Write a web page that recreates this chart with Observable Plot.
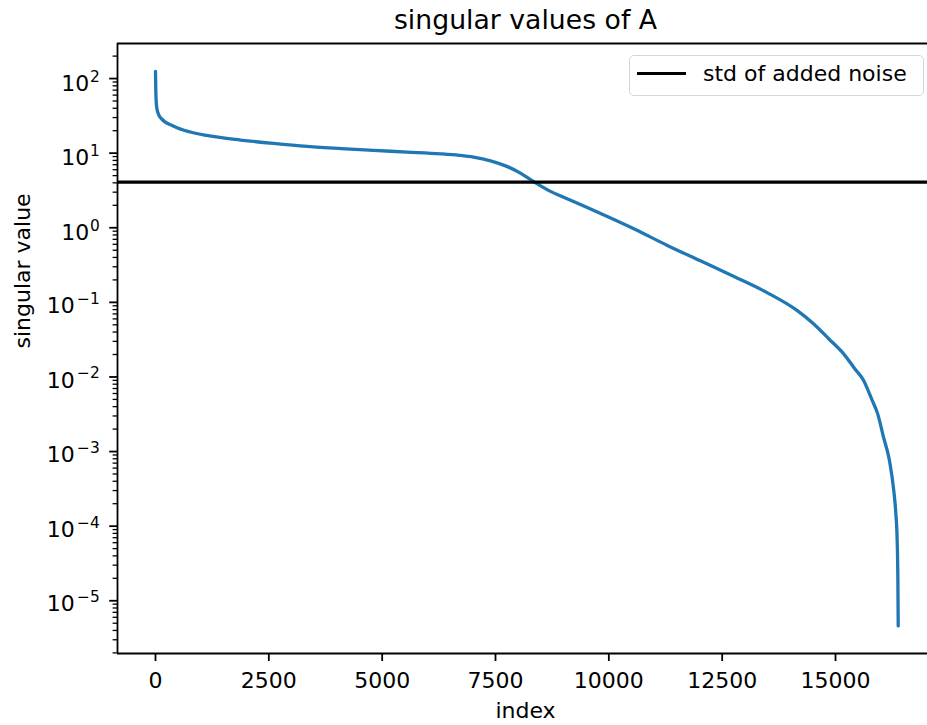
<!DOCTYPE html>
<html>
<head>
<meta charset="utf-8">
<script src="https://cdn.jsdelivr.net/npm/d3@7"></script>
<script src="https://cdn.jsdelivr.net/npm/@observablehq/plot@0.6"></script>
<style>
  html, body { margin: 0; padding: 0; background: white; }
  #wrap { position: relative; width: 927px; height: 725px; overflow: hidden; font-family: "DejaVu Sans", sans-serif; }
  #legend { position: absolute; left: 629px; top: 55px; width: 293px; height: 39px; border: 1.3px solid #d6d6d6; border-radius: 5px; background: rgba(255,255,255,0.8); }
  #legend .swatch { position: absolute; left: 7px; top: 15.5px; width: 49px; height: 3.3px; background: black; }
  #legend .lbl { position: absolute; left: 73px; top: 6.5px; font-size: 22px; line-height: 22px; color: black; white-space: nowrap; }
</style>
</head>
<body>
<div id="wrap">
  <div id="legend"><div class="swatch"></div><span class="lbl">std of added noise</span></div>
</div>
<script>
// ---- data ----
const index = [0, 3, 8, 15, 30, 60, 130, 400, 770, 1300, 1875, 2600, 3350, 4100, 4810, 5550, 6290, 6700, 7015, 7390, 7765, 8050, 8340, 8700, 9080, 9820, 10550, 11290, 12020, 12760, 13490, 14150, 14515, 14850, 15180, 15420, 15620, 15800, 15930, 16060, 16190, 16285, 16330, 16360, 16375, 16383];
const singularValue = [125, 95, 65, 50, 40, 34, 29, 23.0, 19.2, 16.6, 15.0, 13.5, 12.3, 11.5, 10.9, 10.35, 9.8, 9.35, 8.85, 7.9, 6.6, 5.4, 4.15, 3.1, 2.45, 1.55, 0.97, 0.58, 0.36, 0.222, 0.135, 0.078, 0.0516, 0.0325, 0.0204, 0.013, 0.00895, 0.005, 0.0032, 0.00155, 7.6e-4, 3.0e-4, 1.5e-4, 6.4e-5, 2.0e-5, 4.6e-6];
const noiseStd = [4.1];
const xTicks = [0, 2500, 5000, 7500, 10000, 12500, 15000];
const yExponents = [-5, -4, -3, -2, -1, 0, 1, 2];
const titleText = "singular values of A";
const xLabel = "index";
const yLabel = "singular value";

// derived
const series = index.map((x, i) => ({x, y: singularValue[i]}));
const yMajor = yExponents.map(e => Math.pow(10, e));
const yMinor = [];
for (let e = -6; e <= 2; e++) for (let m = 2; m <= 9; m++) yMinor.push(m * Math.pow(10, e));
const sup = e => (e < 0 ? "\u2212" + (-e) : String(e));
const posExp = yExponents.filter(e => e >= 0);
const negExp = yExponents.filter(e => e < 0);

const yDomain = [Math.pow(10, -5.707), Math.pow(10, 2.47)];
const xDomain = [-838, 17029];

const chart = Plot.plot({
  width: 927,
  height: 725,
  marginLeft: 117,
  marginRight: 0,
  marginTop: 43,
  marginBottom: 72,
  style: {fontFamily: "DejaVu Sans", fontSize: "22px", color: "black", background: "white", overflow: "visible"},
  x: {domain: xDomain, label: null},
  y: {type: "log", domain: yDomain, label: null},
  marks: [
    // data line
    Plot.line(series, {x: "x", y: "y", stroke: "#1f77b4", strokeWidth: 3.3, curve: "monotone-x", clip: true}),
    // noise level
    Plot.ruleY(noiseStd, {stroke: "black", strokeWidth: 3.3}),
    // spines
    Plot.ruleX([xDomain[0]], {stroke: "black", strokeWidth: 1.8}),
    Plot.ruleY(yDomain, {stroke: "black", strokeWidth: 1.8}),
    // x axis
    Plot.axisX(xTicks, {tickSize: 8, tickPadding: 10.4, strokeWidth: 1.8, fontSize: 22, tickFormat: d => String(d), label: null}),
    // y ticks
    Plot.axisY(yMajor, {tickSize: 7.8, strokeWidth: 1.8, fill: "none", label: null}),
    Plot.axisY(yMinor.filter(v => v >= yDomain[0] && v <= yDomain[1]), {tickSize: 4.4, strokeWidth: 1.3, fill: "none", label: null}),
    // y tick labels: 10^e
    Plot.text(posExp, {y: e => Math.pow(10, e), text: () => "10", frameAnchor: "left", textAnchor: "end", lineAnchor: "middle", dx: -28.2, dy: 5, fontSize: 22}),
    Plot.text(posExp, {y: e => Math.pow(10, e), text: e => sup(e), frameAnchor: "left", textAnchor: "end", lineAnchor: "middle", dx: -17.7, dy: -1.8, fontSize: 15.4}),
    Plot.text(negExp, {y: e => Math.pow(10, e), text: () => "10", frameAnchor: "left", textAnchor: "end", lineAnchor: "middle", dx: -42.8, dy: 3.5, fontSize: 22}),
    Plot.text(negExp, {y: e => Math.pow(10, e), text: e => sup(e), frameAnchor: "left", textAnchor: "end", lineAnchor: "middle", dx: -17.7, dy: -3.5, fontSize: 15.4}),
    // axis labels & title
    Plot.text([yLabel], {text: d => d, frameAnchor: "left", lineAnchor: "middle", dx: -95, rotate: -90, fontSize: 22}),
    Plot.text([xLabel], {text: d => d, frameAnchor: "bottom", lineAnchor: "middle", dx: 3, dy: 57, fontSize: 22}),
    Plot.text([titleText], {text: d => d, frameAnchor: "top", lineAnchor: "middle", dx: 3, dy: -23, fontSize: 26.7})
  ]
});
document.getElementById("wrap").prepend(chart);
</script>
</body>
</html>
